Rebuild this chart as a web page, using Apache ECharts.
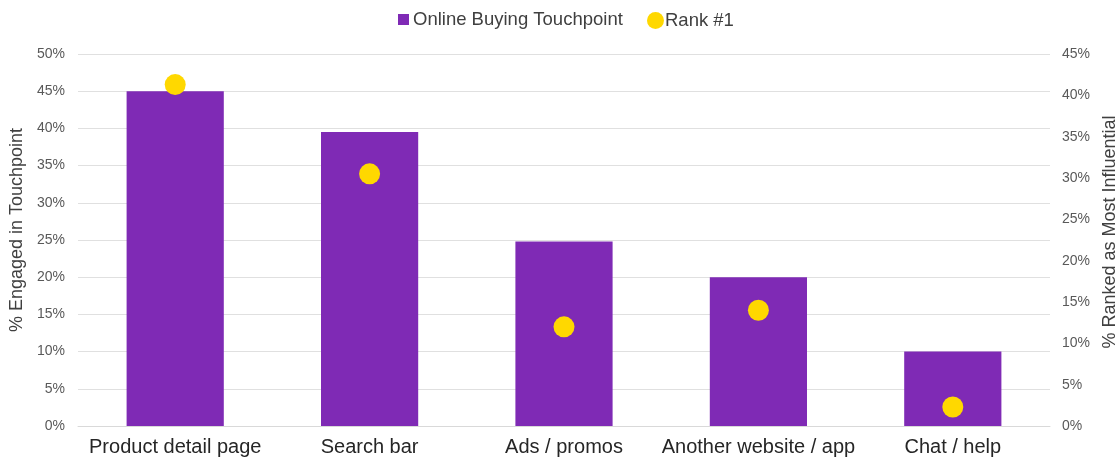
<!DOCTYPE html>
<html>
<head>
<meta charset="utf-8">
<script src="https://cdn.jsdelivr.net/npm/echarts@6/dist/echarts.min.js"></script>
<style>
  html, body { margin: 0; padding: 0; background: #fff; }
  #chart { width: 1115px; height: 457px; }
</style>
</head>
<body>
<div id="chart"></div>
<script>
const categories = ['Product detail page', 'Search bar', 'Ads / promos', 'Another website / app', 'Chat / help']
const engaged = [45, 39.5, 24.8, 20, 10]
const rankFirst = [41.3, 30.5, 12, 14, 2.3]

const font = '"Liberation Sans", Arial, sans-serif'
const pct = v => v + '%'

const chart = echarts.init(document.getElementById('chart'))
chart.setOption({
  animation: false,
  textStyle: { fontFamily: font },
  legend: [
    {
      data: ['Online Buying Touchpoint'],
      left: 398, top: 10, padding: 0,
      icon: 'rect', itemWidth: 11, itemHeight: 11, itemGap: 4,
      textStyle: { fontSize: 18.5, color: '#404040', fontFamily: font, padding: [0, 0, 0, -1] }
    },
    {
      data: ['Rank #1'],
      left: 647, top: 11, padding: 0,
      icon: 'circle', itemWidth: 17, itemHeight: 17,
      textStyle: { fontSize: 18.5, color: '#404040', fontFamily: font, padding: [0, 0, 0, -4] }
    }
  ],
  grid: { left: 78, right: 65, top: 54, bottom: 31, outerBoundsMode: 'none', containLabel: false },
  xAxis: {
    type: 'category',
    data: categories,
    axisTick: { show: false },
    axisLine: { lineStyle: { color: '#d9d9d9' } },
    axisLabel: { interval: 0, fontSize: 20, color: '#262626', margin: 11, fontFamily: font }
  },
  yAxis: [
    {
      type: 'value', min: 0, max: 50, interval: 5,
      name: '% Engaged in Touchpoint',
      nameLocation: 'middle', nameGap: 48,
      nameTextStyle: { fontSize: 18, color: '#404040', fontFamily: font, padding: [0, 0, 0, 20] },
      axisLabel: { formatter: pct, fontSize: 14, color: '#595959', margin: 13, fontFamily: font },
      splitLine: { lineStyle: { color: '#e0e0e0' } }
    },
    {
      type: 'value', min: 0, max: 45, interval: 5,
      name: '% Ranked as Most Influential',
      nameLocation: 'middle', nameGap: 46,
      nameTextStyle: { fontSize: 18, color: '#404040', fontFamily: font, padding: [0, 0, 0, 16] },
      axisLabel: { formatter: pct, fontSize: 14, color: '#595959', margin: 12, fontFamily: font },
      splitLine: { show: false }
    }
  ],
  series: [
    {
      name: 'Online Buying Touchpoint',
      type: 'bar',
      data: engaged,
      barWidth: '50%',
      itemStyle: { color: '#7f2ab5' }
    },
    {
      name: 'Rank #1',
      type: 'scatter',
      yAxisIndex: 1,
      data: rankFirst,
      symbolSize: 21,
      itemStyle: { color: '#ffd800', opacity: 1 }
    }
  ]
})
</script>
</body>
</html>
